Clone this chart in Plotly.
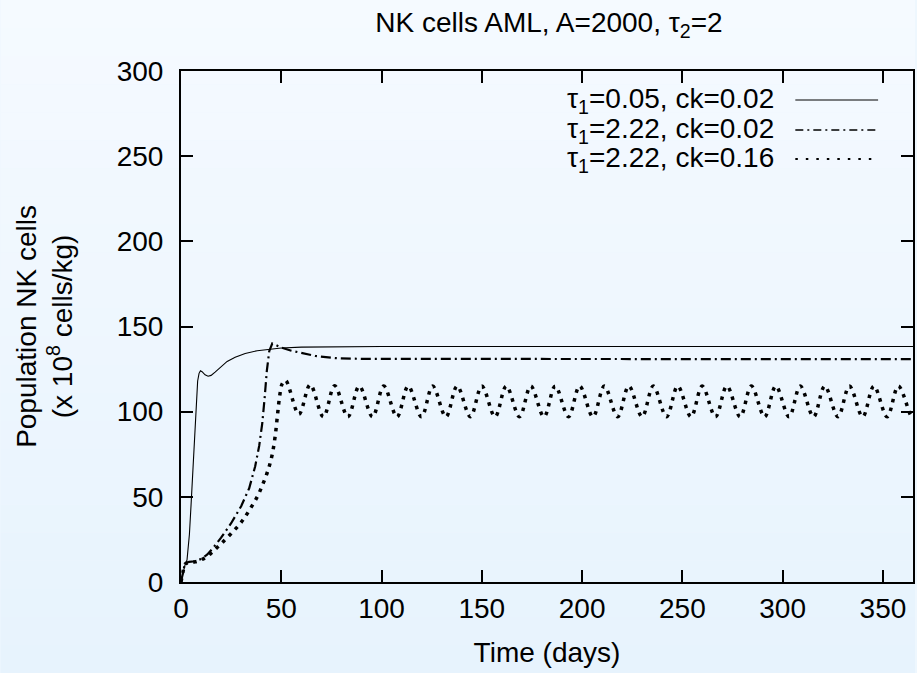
import plotly.graph_objects as go

# ---------------- data ----------------
t_solid = [0, 1, 2, 3, 3.7, 4.2, 5, 6, 7, 7.7, 8.3, 9, 9.7, 10.5, 12, 13.5, 15, 17,
           19.5, 23, 27, 32, 38, 44, 50, 60, 75, 100, 365]
v_solid = [0, 5.5, 10, 13, 20, 28, 45, 67, 90, 107, 118, 122.5, 124, 123.5, 121.6,
           120.8, 121.3, 123.2, 126, 129.5, 132, 134.2, 135.8, 136.8, 137.4, 137.9,
           138.2, 138.3, 138.3]

t_dashdot = [0, 1, 2, 4, 7, 10, 13, 16, 20, 25, 30, 34, 37, 39, 40.5, 41.7, 42.8, 44,
             45.5, 47, 50, 55, 60, 67, 77, 90, 365]
v_dashdot = [0, 6, 11, 11.8, 12.2, 13.5, 16, 20, 26, 34.5, 44.5, 55, 68, 80, 93, 108,
             124, 135.5, 140, 139.3, 137.6, 135.8, 134.4, 132.7, 131.4, 131.0, 130.8]

t_dot = [0, 1, 2, 4, 7, 10, 13, 16, 20, 25, 30, 34, 38, 41, 43.5, 45.5, 47, 48.2, 49.3,
         50.5, 52.2, 58.8, 64.4, 71.0, 76.6, 83.2, 88.9, 95.5, 101.1, 107.7, 113.3,
         119.9, 125.5, 132.1, 137.7, 144.3, 150.0, 156.6, 162.2, 168.8, 174.4, 181.0,
         186.6, 193.2, 198.8, 205.4, 211.1, 217.7, 223.3, 229.9, 235.5, 242.1, 247.7,
         254.3, 259.9, 266.5, 272.2, 278.8, 284.4, 291.0, 296.6, 303.2, 308.8, 315.4,
         321.0, 327.6, 333.3, 339.9, 345.5, 352.1, 357.7, 364.3, 365]
v_dot = [0, 6, 10.5, 11.5, 11.8, 13, 15, 18, 22.5, 28.5, 35, 42, 50, 58, 66, 75, 86,
         99, 110, 116.5, 118.3,
         98.5, 115.8, 97, 115.2, 97, 115, 97, 115, 97, 115, 97, 115, 97, 115, 97, 115,
         97, 115, 97, 115, 97, 115, 97, 115, 97, 115, 97, 115, 97, 115, 97, 115, 97,
         115, 97, 115, 97, 115, 97, 115, 97, 115, 97, 115, 97, 115, 97, 115, 97, 115,
         97, 97.2]

series_names = ["τ<sub>1</sub>=0.05, ck=0.02",
                "τ<sub>1</sub>=2.22, ck=0.02",
                "τ<sub>1</sub>=2.22, ck=0.16"]
x_ticks = [0, 50, 100, 150, 200, 250, 300, 350]
y_ticks = [0, 50, 100, 150, 200, 250, 300]
title_text = "NK cells AML, A=2000, τ<sub>2</sub>=2"
x_title = "Time (days)"
y_title = "Population NK cells<br>(x 10<sup>8</sup> cells/kg)"

# ---------------- styling ----------------
FONT = "Liberation Sans, Arial, sans-serif"
FS = 28
W, H = 917, 673
L, R, T, B = 181, 2, 71, 91
PW, PH = W - L - R, H - T - B

styles = [
    dict(color="black", width=1.1, dash="solid"),
    dict(color="black", width=2.2, dash="10px,4px,2px,4px"),
    dict(color="black", width=3.5, dash="3.5px,5.5px"),
]
legend_styles = [
    dict(color="black", width=1, dash="solid"),
    dict(color="black", width=1.6, dash="8px,4px,2px,4px"),
    dict(color="black", width=2.2, dash="2.5px,8px"),
]

fig = go.Figure()
fig.add_trace(go.Scatter(x=t_solid, y=v_solid, mode="lines", line=styles[0],
                         name=series_names[0], showlegend=False))
fig.add_trace(go.Scatter(x=t_dashdot, y=v_dashdot, mode="lines", line=styles[1],
                         name=series_names[1], showlegend=False))
fig.add_trace(go.Scatter(x=t_dot, y=v_dot, mode="lines",
                         line=dict(**styles[2], shape="spline", smoothing=1.0),
                         name=series_names[2], showlegend=False))

def px_x(px):
    return (px - L) / PW

def px_y(py):
    return (H - B - py) / PH

shapes = []
# light vertical gradient background
n = 24
top = (245, 250, 255)
bot = (231, 243, 253)
for i in range(n):
    f = i / (n - 1)
    c = tuple(round(top[k] + (bot[k] - top[k]) * f) for k in range(3))
    shapes.append(dict(type="rect", xref="paper", yref="paper", layer="below",
                       x0=px_x(0), x1=px_x(W),
                       y0=px_y(H * (i + 1) / n), y1=px_y(H * i / n),
                       fillcolor="rgb(%d,%d,%d)" % c, line=dict(width=0)))

# legend (text left, sample right, gnuplot style)
legend_rows = [100, 130, 159]
annotations = []
for name, st, ry in zip(series_names, legend_styles, legend_rows):
    annotations.append(dict(text=name, xref="paper", yref="paper",
                            x=px_x(778), y=px_y(ry), xanchor="right", yanchor="middle",
                            showarrow=False, font=dict(family=FONT, size=FS, color="black")))
    shapes.append(dict(type="line", xref="paper", yref="paper",
                       x0=px_x(797), x1=px_x(880), y0=px_y(ry), y1=px_y(ry),
                       line=st))

annotations.append(dict(text=y_title, xref="paper", yref="paper",
                        x=px_x(44), y=0.5, xanchor="center", yanchor="middle",
                        textangle=-90, showarrow=False,
                        font=dict(family=FONT, size=FS, color="black")))

axis_common = dict(showline=True, linecolor="black", linewidth=2, mirror="ticks",
                   ticks="inside", ticklen=12, tickwidth=1.5, tickcolor="black",
                   showgrid=False, zeroline=False,
                   tickfont=dict(family=FONT, size=FS, color="black"))

fig.update_layout(
    width=W, height=H,
    margin=dict(l=L, r=R, t=T, b=B),
    paper_bgcolor="rgb(238,247,254)",
    plot_bgcolor="rgba(0,0,0,0)",
    title=dict(text=title_text, x=549 / W, xanchor="center",
               y=1 - 22 / H, yanchor="middle",
               font=dict(family=FONT, size=FS, color="black")),
    xaxis=dict(range=[0, 365], tickvals=x_ticks, ticklabelstandoff=0,
               title=dict(text=x_title, font=dict(family=FONT, size=FS, color="black"),
                          standoff=20),
               **axis_common),
    yaxis=dict(range=[0, 300], tickvals=y_ticks, ticklabelstandoff=10, **axis_common),
    shapes=shapes,
    annotations=annotations,
    showlegend=False,
)

fig.write_html("out.html")
